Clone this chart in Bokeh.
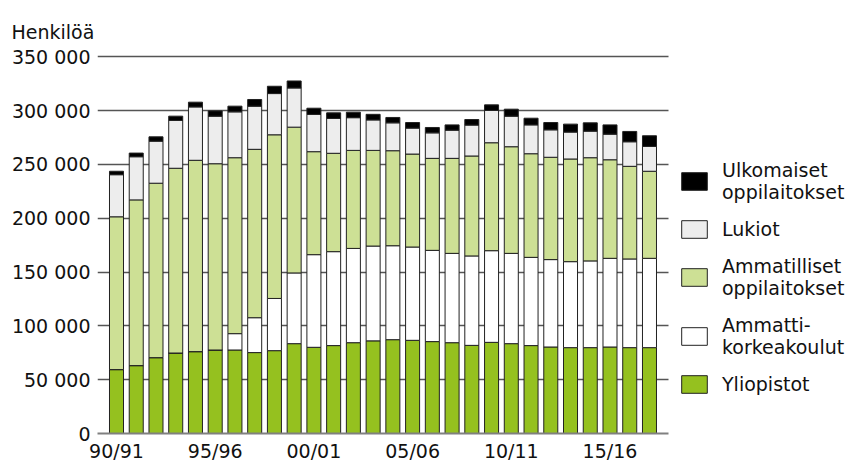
from bokeh.plotting import figure
from bokeh.models import FixedTicker, Legend, LegendItem, Range1d, ColumnDataSource
from bokeh.embed import file_html
from bokeh.resources import INLINE

years = ["90/91", "91/92", "92/93", "93/94", "94/95", "95/96", "96/97", "97/98",
         "98/99", "99/00", "00/01", "01/02", "02/03", "03/04", "04/05", "05/06",
         "06/07", "07/08", "08/09", "09/10", "10/11", "11/12", "12/13", "13/14",
         "14/15", "15/16", "16/17", "17/18"]

yliopistot = [59400, 63100, 70500, 74800, 76100, 77600, 77600, 75200, 77000, 83500,
              80100, 81700, 84400, 86100, 87200, 86600, 85400, 84400, 81900, 84700,
              83500, 81700, 80400, 79800, 79800, 80400, 79800, 79800]
amk = [0, 0, 0, 0, 0, 0, 15200, 32400, 48500, 65700,
       86100, 87300, 87600, 88100, 87300, 86700, 84800, 83000, 83100, 85200,
       83900, 82000, 81200, 79900, 80600, 82400, 82400, 83000]
ammatilliset = [142000, 154000, 162100, 171700, 177800, 173100, 163500, 156500, 152100, 135500,
                95700, 91400, 91100, 88900, 88300, 86400, 85500, 88300, 92900, 100300,
                99100, 96300, 95100, 95400, 95900, 91600, 86100, 80900]
lukiot = [39100, 40100, 39100, 44400, 49600, 44200, 42600, 40100, 38300, 36400,
          34600, 32400, 30400, 28300, 25900, 24100, 23700, 26200, 28700, 30000,
          28400, 26800, 25500, 25000, 24700, 23800, 22800, 23100]
ulkomaiset = [3200, 3400, 4000, 4000, 4400, 4900, 5300, 6200, 6800, 6500,
              5800, 5200, 5100, 5200, 5000, 5200, 5000, 4900, 5200, 5200,
              6500, 6200, 6800, 7400, 7700, 8600, 9600, 9900]

series_keys = ["yliopistot", "amk", "ammatilliset", "lukiot", "ulkomaiset"]
series_labels = ["Yliopistot", "Ammatti-\nkorkeakoulut", "Ammatilliset\noppilaitokset",
                 "Lukiot", "Ulkomaiset\noppilaitokset"]
colors = ["#95c11f", "#ffffff", "#cde095", "#ededed", "#000000"]

y_ticks = [0, 50000, 100000, 150000, 200000, 250000, 300000, 350000]
y_tick_labels = ["0", "50 000", "100 000", "150 000", "200 000", "250 000", "300 000", "350 000"]
x_tick_idx = [0, 5, 10, 15, 20, 25]
y_title = "Henkilöä"

FONT = "DejaVu Sans"
FS = "19px"

W, H = 850, 464
left, top, bottom = 97, 51, 30
frame_w = W - left
px_per_bar = 19.74
x0 = -19.0 / px_per_bar
x_data_end = x0 + 571.0 / px_per_bar
x1 = x0 + frame_w / px_per_bar
y_top = 355000

src = ColumnDataSource(dict(x=list(range(len(years))), yliopistot=yliopistot, amk=amk,
                            ammatilliset=ammatilliset, lukiot=lukiot, ulkomaiset=ulkomaiset))

p = figure(width=W, height=H, output_backend="svg", toolbar_location=None,
           x_range=Range1d(x0, x1), y_range=Range1d(0, y_top),
           min_border_left=left, min_border_right=0, min_border_top=top,
           min_border_bottom=bottom, outline_line_color=None)

renderers = p.vbar_stack(series_keys, x="x", width=0.71, color=colors,
                         line_color="#222222", line_width=1, source=src)

# axes
p.yaxis.ticker = FixedTicker(ticks=y_ticks)
p.yaxis.major_label_overrides = {t: l for t, l in zip(y_ticks, y_tick_labels)}
p.yaxis.axis_line_color = None
p.yaxis.major_tick_line_color = None
p.yaxis.minor_tick_line_color = None
p.yaxis.major_tick_out = 0
p.yaxis.major_label_standoff = 7
p.yaxis.major_label_text_font = FONT
p.yaxis.major_label_text_font_size = FS
p.yaxis.major_label_text_color = "#111111"

p.xaxis.ticker = FixedTicker(ticks=x_tick_idx)
p.xaxis.major_label_overrides = {i: years[i] for i in x_tick_idx}
p.xaxis.axis_line_color = "#808080"
p.xaxis.axis_line_width = 2
p.xaxis.bounds = (x0, x_data_end)
p.xaxis.major_tick_line_color = None
p.xaxis.minor_tick_line_color = None
p.xaxis.major_tick_out = 0
p.xaxis.major_label_standoff = 6
p.xaxis.major_label_text_font = FONT
p.xaxis.major_label_text_font_size = FS
p.xaxis.major_label_text_color = "#111111"

p.xgrid.grid_line_color = None
p.ygrid.grid_line_color = "#555555"
p.ygrid.grid_line_width = 1.3
p.ygrid.cross_bounds = (x0, x_data_end)

p.title.text = y_title
p.title.align = "left"
p.title.offset = -86
p.title.standoff = 17
p.title.text_font = FONT
p.title.text_font_size = FS
p.title.text_font_style = "normal"
p.title.text_color = "#111111"

items = [LegendItem(label=lab, renderers=[r]) for lab, r in zip(series_labels, renderers)]
items = items[::-1]
legend = Legend(items=items, location=(581, 38), padding=0, margin=0,
                border_line_color=None, background_fill_alpha=0,
                glyph_width=32, glyph_height=22, label_standoff=12, spacing=15,
                label_text_font=FONT, label_text_font_size=FS, label_text_color="#111111",
                label_text_line_height=1.12)
p.add_layout(legend, "center")

open("out.html", "w").write(file_html(p, INLINE))
